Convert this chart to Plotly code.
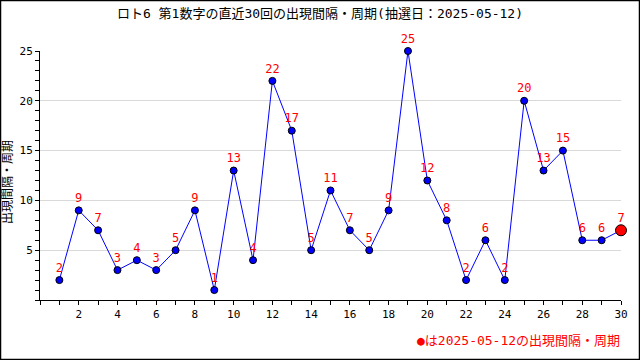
import plotly.graph_objects as go

draws = list(range(1, 31))
intervals = [2, 9, 7, 3, 4, 3, 5, 9, 1, 13, 4, 22, 17, 5, 11, 7, 5, 9, 25, 12, 8, 2, 6, 2, 20, 13, 15, 6, 6, 7]
title = "ロト6 第1数字の直近30回の出現間隔・周期(抽選日：2025-05-12)"
ytitle = "出現間隔・周期"
legend_text = "●は2025-05-12の出現間隔・周期"
x_ticks = list(range(2, 31, 2))
y_ticks = [5, 10, 15, 20, 25]

FONT = "DejaVu Sans Mono, Noto Sans CJK JP, monospace"
PW, PH = 581, 249  # plot area size in px

fig = go.Figure()
fig.add_trace(go.Scatter(
    x=draws, y=intervals, mode="lines+markers+text",
    line=dict(color="#0000ff", width=1),
    marker=dict(color="#0000ff", size=7, line=dict(color="black", width=1)),
    text=[str(v) for v in intervals], textposition="top center",
    textfont=dict(color="#ff0000", size=12, family=FONT),
    cliponaxis=False, showlegend=False, hoverinfo="skip",
))
fig.add_trace(go.Scatter(
    x=[draws[-1]], y=[intervals[-1]], mode="markers",
    marker=dict(color="#ff0000", size=11, line=dict(color="black", width=1)),
    cliponaxis=False, showlegend=False, hoverinfo="skip",
))

fig.update_layout(
    width=640, height=360,
    margin=dict(l=40, r=19, t=51, b=60, autoexpand=False),
    paper_bgcolor="white", plot_bgcolor="white",
    font=dict(family=FONT, size=11, color="black"),
    title=dict(text=title, x=0.5, xanchor="center", y=1 - 13 / 360, yanchor="middle",
               font=dict(size=13, family=FONT)),
    xaxis=dict(range=[0, 30], tickvals=x_ticks, showgrid=False, automargin=False,
               showline=True, linecolor="black", linewidth=1,
               ticks="outside", ticklen=4, tickcolor="black",
               minor=dict(dtick=1, tick0=0, ticks="outside", ticklen=4, tickcolor="black"),
               zeroline=False, tickfont=dict(size=11)),
    yaxis=dict(range=[0, 25], tickvals=y_ticks, showgrid=True, gridcolor="#d9d9d9",
               showline=True, linecolor="black", linewidth=1, automargin=False,
               ticks="outside", ticklen=4, tickcolor="black",
               minor=dict(dtick=1, tick0=0, ticks="outside", ticklen=4, tickcolor="black", showgrid=False),
               zeroline=False, tickfont=dict(size=11)),
)
fig.add_annotation(text=ytitle, xref="paper", yref="paper", x=-32 / PW, y=(300 - 182) / PH,
                   xanchor="center", yanchor="middle", showarrow=False, textangle=-90,
                   font=dict(color="black", size=12, family=FONT))
fig.add_annotation(text=legend_text, xref="paper", yref="paper", x=1.0 + 1 / PW, y=-(340 - 300) / PH,
                   xanchor="right", yanchor="middle", showarrow=False,
                   font=dict(color="#ff0000", size=13, family=FONT))
fig.add_shape(type="rect", xref="paper", yref="paper", x0=-39.5 / PW, x1=1 + 18.5 / PW,
              y0=-59.5 / PH, y1=1 + 50.5 / PH, line=dict(color="black", width=1.5), layer="above")
fig.write_html("out.html", config={"displayModeBar": False},
               post_script="document.body.style.margin='0';")
